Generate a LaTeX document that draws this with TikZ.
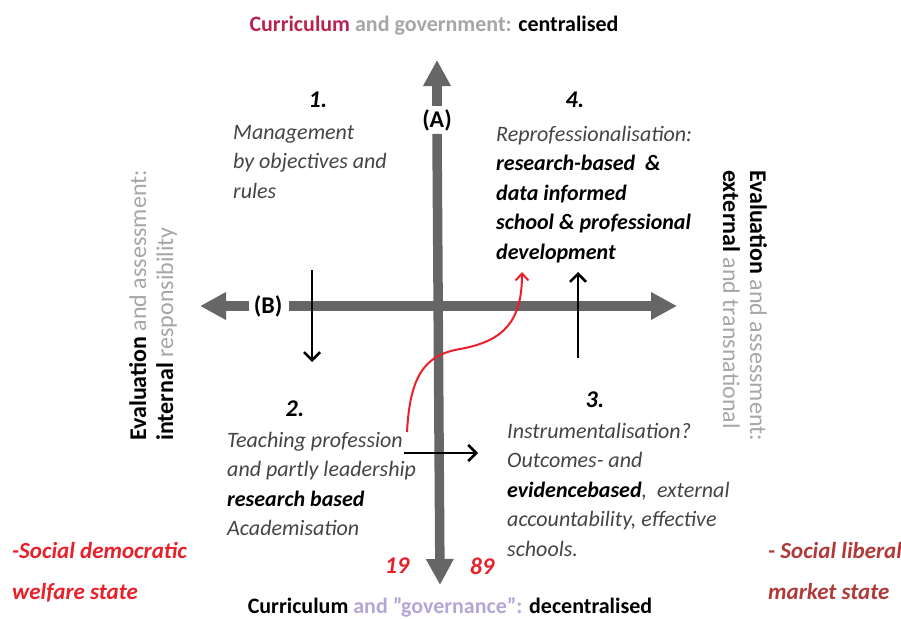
\documentclass[tikz,border=0pt]{standalone}
\usepackage{fontspec}
\setmainfont{Carlito}
\usetikzlibrary{arrows.meta,positioning}
\definecolor{axisgray}{HTML}{666666}
\definecolor{textgray}{HTML}{444444}
\definecolor{lightgray}{HTML}{A6A6A6}
\definecolor{crimson}{HTML}{B82450}
\definecolor{lavender}{HTML}{B4A7D6}
\definecolor{brightred}{HTML}{E8202A}
\definecolor{darkred}{HTML}{B03A3A}

\begin{document}
\begin{tikzpicture}[x=1pt,y=-1pt,
					axis/.style={line width=9.5pt, draw=axisgray, -{Triangle[length=26pt,width=26pt]}},
					move/.style={line width=2.6pt, -{Straight Barb[length=8pt,width=16pt]}},
					quad/.style={align=left, anchor=north west, inner sep=0pt, text=textgray,
						font=\fontsize{22}{29.5}\selectfont\itshape},
					num/.style={inner sep=0pt, font=\fontsize{24}{26}\selectfont\bfseries\itshape},
					axlabel/.style={inner sep=0pt, font=\fontsize{24}{26}\selectfont\bfseries},
					side/.style={align=left, inner sep=0pt, font=\fontsize{24}{27}\selectfont},
					state/.style={align=left, anchor=north west, inner sep=0pt,
						font=\fontsize{23}{41}\selectfont\bfseries\itshape}]
	\useasboundingbox (0,0) rectangle (901,618);
	% axes
	\node[axlabel] (A) at (437,120) {(A)};
	\node[axlabel] (B) at (268,306) {(B)};
	\coordinate (top) at (437,60);
	\coordinate (bottom) at (440,585);
	\coordinate (left) at (200,306);
	\coordinate (right) at (677,306);
	\draw[axis] (A.north) ++(0,-3) -- (top);
	\draw[axis] (A.south) ++(0,3) -- (bottom);
	\draw[axis] (B.west) ++(-5,0) -- (left);
	\draw[axis] (B.east) ++(7,0) -- (right);
	% axis titles
	\node[axlabel, font=\fontsize{22}{24}\selectfont\bfseries] (ttop) at (434,26)
		{\textcolor{crimson}{Curriculum} \textcolor{lightgray}{and government:} \textcolor{black}{centralised}};
	\node[axlabel, font=\fontsize{22}{24}\selectfont\bfseries] (tbottom) at (450,607)
		{Curriculum \textcolor{lavender}{and "governance":} decentralised};
	\node[side, rotate=90, anchor=west] (tleft) at (153,441)
		{\textbf{Evaluation} \textcolor{lightgray}{and assessment:}\\
		 \textbf{internal} \textcolor{lightgray}{responsibility}};
	\node[side, rotate=-90, anchor=west] (tright) at (745,170)
		{\textbf{Evaluation} \textcolor{lightgray}{and assessment:}\\
		 \textbf{external} \textcolor{lightgray}{and transnational}};
	% quadrants
	\node[num] (n1) at (318,100) {1.};
	\node[quad] (q1) at (233,125) {Management\\by objectives and\\rules};
	\node[num] (n4) at (575,100) {4.};
	\node[quad] (q4) at (496,126) {Reprofessionalisation:\\
		\textcolor{black}{\bfseries research-based \ \&}\\
		\textcolor{black}{\bfseries data informed}\\
		\textcolor{black}{\bfseries school \& professional}\\
		\textcolor{black}{\bfseries development}};
	\node[num] (n2) at (295,409) {2.};
	\node[quad] (q2) at (227,432) {Teaching profession\\and partly leadership\\
		\textcolor{black}{\bfseries research based}\\Academisation};
	\node[num] (n3) at (595,400) {3.};
	\node[quad] (q3) at (507,423) {Instrumentalisation?\\Outcomes- and\\
		\textcolor{black}{\bfseries evidencebased}, \ external\\accountability, effective\\schools.};
	% movements
	\coordinate (d1) at (312,270);
	\coordinate (d2) at (312,362);
	\draw[move] (d1) -- (d2);
	\coordinate (u1) at (578,358);
	\coordinate (u2) at (578,272);
	\draw[move] (u1) -- (u2);
	\coordinate (r1) at (404,453);
	\coordinate (r2) at (478,453);
	\draw[move] (r1) -- (r2);
	\coordinate (c1) at (407,432);
	\coordinate (c2) at (522,272);
	\draw[brightred, line width=2pt, -{Straight Barb[length=7pt,width=13pt]}]
		(c1) .. controls (410,375) and (425,355) .. (460,349)
		.. controls (505,341) and (522,320) .. (c2);
	% years and states
	\node[num, text=brightred] (y19) at (397,566) {19};
	\node[num, text=brightred] (y89) at (482,566) {89};
	\node[state, text=brightred] (sleft) at (12,542) {-Social democratic\\welfare state};
	\node[state, text=darkred] (sright) at (768,542) {- Social liberal\\market state};
\end{tikzpicture}
\end{document}
